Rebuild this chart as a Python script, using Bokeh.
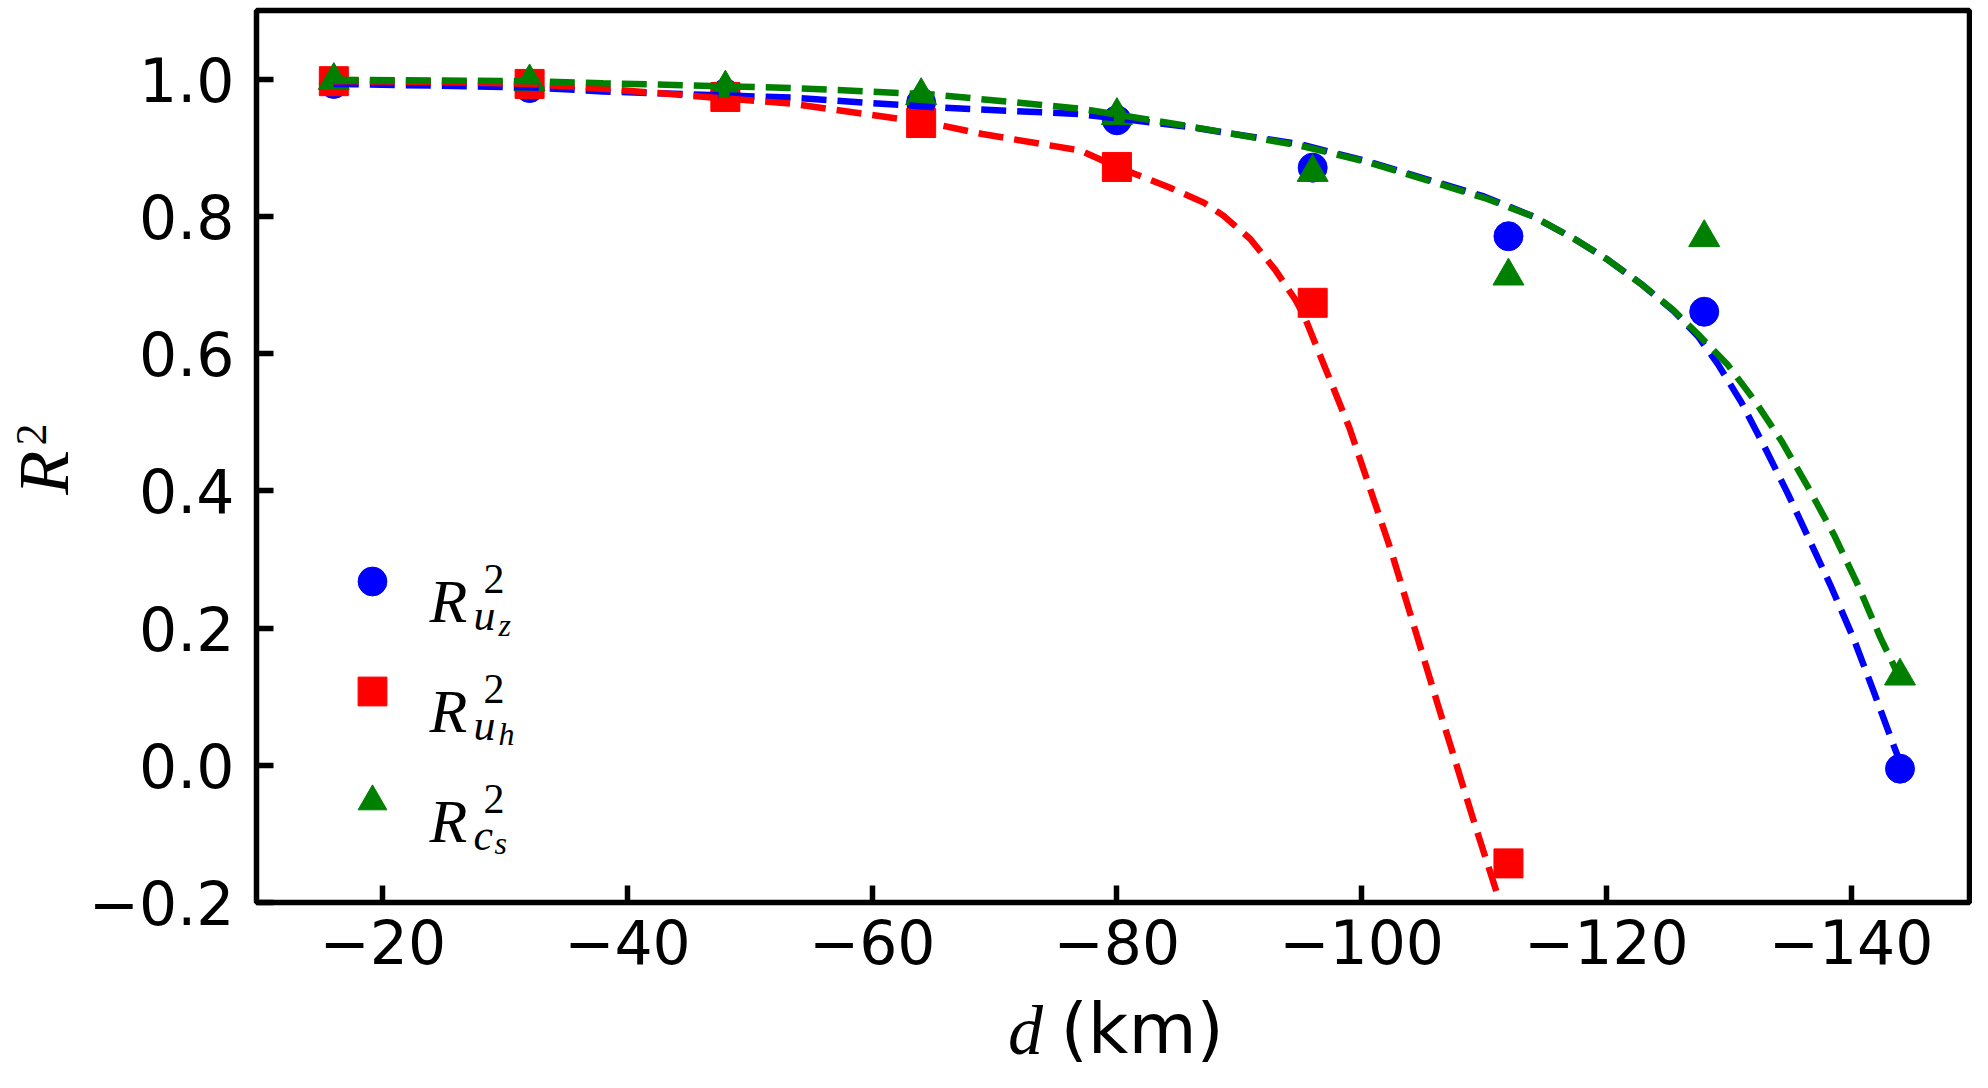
from bokeh.plotting import figure
from bokeh.models import Range1d, FixedTicker, CustomJSTickFormatter, Legend, LegendItem, Label, LinearAxis
from bokeh.embed import file_html
from bokeh.resources import INLINE

# ---------------- data ----------------
depth = [-16, -32, -48, -64, -80, -96, -112, -128, -144]
r2_uz = [0.993, 0.987, 0.979, 0.966, 0.940, 0.871, 0.771, 0.661, -0.005]
depth_uh = [-16, -32, -48, -64, -80, -96, -112]
r2_uh = [0.997, 0.993, 0.974, 0.936, 0.872, 0.674, -0.143]
r2_cs = [0.998, 0.996, 0.987, 0.976, 0.947, 0.864, 0.713, 0.769, 0.130]

fit_depth_uz = [-16, -32, -38, -53.5, -65, -77, -86, -95, -100.5, -110, -114, -117.4,
                -120.1, -122.8, -125.5, -127.5, -129.1, -131, -132.9, -134.8, -136.4,
                -138.3, -140.2, -141.9, -143.5, -144]
fit_r2_uz = [0.993, 0.988, 0.982, 0.973, 0.959, 0.949, 0.930, 0.905, 0.880, 0.829, 0.800, 0.767,
             0.737, 0.702, 0.662, 0.625, 0.585, 0.530, 0.465, 0.397, 0.336,
             0.263, 0.185, 0.105, 0.028, 0.005]

fit_depth_uh = [-16, -24, -32, -38, -53.5, -65, -69, -77, -80, -84.3, -87.1, -88.7, -90.9,
                -92.9, -94.6, -95.3, -99, -102.4, -106.2, -109.3, -111.2]
fit_r2_uh = [0.997, 0.996, 0.993, 0.986, 0.964, 0.935, 0.920, 0.896, 0.872, 0.842, 0.820, 0.801, 0.767,
             0.723, 0.678, 0.655, 0.492, 0.313, 0.090, -0.089, -0.194]

fit_depth_cs = [-16, -32, -38, -53.5, -65, -77, -86, -95, -100.5, -110, -114, -117.4,
                -120.1, -122.8, -125.5, -127.5, -129.9, -132.1, -134.3, -136.4, -138.6,
                -140.5, -142.4, -143.8, -144]
fit_r2_cs = [0.999, 0.997, 0.994, 0.987, 0.9775, 0.957, 0.931, 0.903, 0.879, 0.827, 0.800, 0.767,
             0.737, 0.702, 0.663, 0.628, 0.584, 0.532, 0.473, 0.408, 0.336,
             0.265, 0.186, 0.134, 0.128]

x_ticks = [-20, -40, -60, -80, -100, -120, -140]
y_ticks = [-0.2, 0.0, 0.2, 0.4, 0.6, 0.8, 1.0]

BLUE, RED, GREEN = "#0000ff", "#ff0000", "#008000"

# ---------------- figure ----------------
W, H = 1972, 1072
MBL, MBR, MBT, MBB = 254, 3, 10, 170
FL = MBL          # frame left (px from figure left)
FB = H - MBB      # frame bottom (px from figure top)

p = figure(width=W, height=H, output_backend="svg", toolbar_location=None,
           x_range=Range1d(-9.68, -149.68), y_range=Range1d(-0.2, 1.1),
           min_border_left=MBL, min_border_right=MBR, min_border_top=MBT, min_border_bottom=MBB)
p.background_fill_color = "white"
p.border_fill_color = "white"
p.outline_line_color = "black"
p.outline_line_width = 5.5
p.xgrid.grid_line_color = None
p.ygrid.grid_line_color = None

p.xaxis.ticker = FixedTicker(ticks=x_ticks)
p.yaxis.ticker = FixedTicker(ticks=y_ticks)
p.xaxis.formatter = CustomJSTickFormatter(code="return (tick < 0 ? '\\u2212' : '') + Math.abs(tick).toFixed(0);")
p.yaxis.formatter = CustomJSTickFormatter(code="return (tick < -1e-9 ? '\\u2212' : '') + Math.abs(tick).toFixed(1);")
for ax in (p.xaxis[0], p.yaxis[0]):
    ax.axis_line_color = None
    ax.major_tick_in = 17
    ax.major_tick_out = 0
    ax.minor_tick_in = 0
    ax.minor_tick_out = 0
    ax.major_tick_line_width = 5.5
    ax.major_tick_line_color = "black"
    ax.major_label_text_font = "DejaVu Sans"
    ax.major_label_text_font_size = "60px"
    ax.major_label_text_color = "black"
    ax.axis_label_text_color = "black"
p.xaxis.major_label_standoff = 16
p.yaxis.major_label_standoff = 22


def label_axis(text, font, style, size, standoff):
    return LinearAxis(ticker=FixedTicker(ticks=[]), axis_label=text,
                      axis_label_text_font=font, axis_label_text_font_style=style,
                      axis_label_text_font_size=size, axis_label_text_color="black",
                      axis_label_standoff=standoff, axis_line_color=None,
                      major_tick_line_color=None, minor_tick_line_color=None,
                      major_tick_in=0, major_tick_out=0, minor_tick_in=0, minor_tick_out=0,
                      major_label_standoff=0, major_label_text_font_size="1px")


# y label: italic "R" on the main axis, superscript "2" on a label-only axis
p.yaxis.axis_label = "R\u00a0\u2009"
p.yaxis.axis_label_text_font = "Liberation Serif"
p.yaxis.axis_label_text_font_style = "italic"
p.yaxis.axis_label_text_font_size = "72px"
p.yaxis.axis_label_standoff = 2
p.add_layout(label_axis("\u00a0\u00a0\u00a0\u00a02", "Liberation Serif", "normal", "44px", -55), "left")

# x label: "(km)" on the main axis, italic "d" on a second, label-only axis
p.xaxis.axis_label = "\u00a0\u00a0\u2009(km)"
p.xaxis.axis_label_text_font = "DejaVu Sans"
p.xaxis.axis_label_text_font_style = "normal"
p.xaxis.axis_label_text_font_size = "70px"
p.xaxis.axis_label_standoff = 21
p.add_layout(label_axis("d" + "\u00a0" * 10, "Liberation Serif", "italic", "70px", -81), "below")

# ---------------- marks ----------------
r_uz = p.scatter(depth, r2_uz, marker="circle", size=29, color=BLUE)
r_uh = p.scatter(depth_uh, r2_uh, marker="square", size=29, color=RED)
r_cs = p.scatter(depth, r2_cs, marker="triangle", size=31, color=GREEN)

p.line(fit_depth_uz, fit_r2_uz, line_color=BLUE, line_width=6.5, line_dash="25 11")
p.line(fit_depth_uh, fit_r2_uh, line_color=RED, line_width=6.5, line_dash="25 11")
p.line(fit_depth_cs, fit_r2_cs, line_color=GREEN, line_width=6.5, line_dash="25 11")

# ---------------- legend (markers) ----------------
legend = Legend(items=[LegendItem(label=" ", renderers=[r_uz]),
                       LegendItem(label=" ", renderers=[r_uh]),
                       LegendItem(label=" ", renderers=[r_cs])],
                location=(80, 65), orientation="vertical",
                glyph_width=72, glyph_height=72, label_height=72, label_width=1,
                spacing=38, padding=0, margin=0, label_standoff=0,
                border_line_color=None, background_fill_alpha=0,
                label_text_font_size="1px")
p.add_layout(legend)


def txt(text, px, py, size, font="Liberation Serif", style="italic"):
    p.add_layout(Label(x=px - FL, y=FB - py, x_units="screen", y_units="screen",
                       text=text, text_font=font, text_font_style=style,
                       text_font_size=f"{size}px", text_baseline="alphabetic",
                       text_align="left", text_color="black"))


# legend texts: R^2 with subscripts
rows = [("u", "z", 600, 24), ("u", "h", 710, 23), ("c", "s", 820, 22)]
for sub1, sub2, base, d2 in rows:
    txt("R", 427, base, 62)
    txt("2", 481, base - 22, 42, style="normal")
    txt(sub1, 471, base + 15, 44)
    txt(sub2, 496 if sub1 == "u" else 492, base + d2, 32)

open("out.html", "w").write(file_html(p, INLINE))
